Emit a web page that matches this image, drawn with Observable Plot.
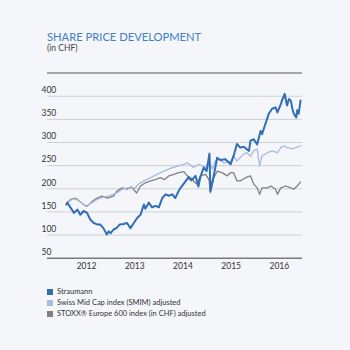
<!DOCTYPE html>
<html><head><meta charset="utf-8">
<script src="https://cdn.jsdelivr.net/npm/d3@7"></script>
<script src="https://cdn.jsdelivr.net/npm/@observablehq/plot@0.6"></script>
<style>
html,body{margin:0;padding:0;background:#f4f6fa;}
#wrap{position:relative;width:350px;height:350px;background:#f4f6fa;font-family:Lato,"Open Sans",sans-serif;overflow:hidden;}
#title{position:absolute;left:47px;top:31px;font-size:11.2px;color:#3f80c6;white-space:nowrap;line-height:1;}
#sub{position:absolute;left:47px;top:44px;font-size:8.5px;color:#444;white-space:nowrap;line-height:1;}
#chart{position:absolute;left:0;top:0;}
#legend{position:absolute;left:47px;top:286px;font-size:7.5px;color:#333;line-height:11px;}
#legend div{white-space:nowrap;}
#legend span{display:inline-block;width:6px;height:6px;margin-right:4px;vertical-align:-0.5px;}
</style></head>
<body><div id="wrap">
<div id="title">SHARE PRICE DEVELOPMENT</div>
<div id="sub">(in CHF)</div>
<div id="chart"></div>
<div id="legend"></div>
</div>
<script>
const seriesNames = ["Straumann", "Swiss Mid Cap index (SMIM) adjusted", "STOXX® Europe 600 index (in CHF) adjusted"];
const seriesColors = ["#2f6eb6", "#a8bbe0", "#808080"];
const yTicks = [50, 100, 150, 200, 250, 300, 350, 400];
const xTicks = [2012.5, 2013.5, 2014.5, 2015.5, 2016.5];
const xTickLabels = ["2012", "2013", "2014", "2015", "2016"];

const straumann = [[2012.08,166],[2012.10,170],[2012.17,159],[2012.24,148],[2012.31,155],[2012.37,144],[2012.44,152],[2012.51,148],[2012.58,133],[2012.65,126],[2012.72,123],[2012.78,123],[2012.85,115],[2012.92,101],[2012.96,108],[2013.00,104],[2013.06,112],[2013.12,115],[2013.19,123],[2013.27,124],[2013.34,126],[2013.41,115],[2013.48,126],[2013.55,137],[2013.62,144],[2013.69,166],[2013.72,157],[2013.79,170],[2013.86,160],[2013.93,163],[2014.00,160],[2014.07,180],[2014.14,188],[2014.21,185],[2014.28,188],[2014.34,180],[2014.41,195],[2014.45,202],[2014.51,210],[2014.61,224],[2014.68,218],[2014.76,228],[2014.82,205],[2014.86,225],[2014.93,246],[2014.99,238],[2015.05,276],[2015.07,195],[2015.13,224],[2015.21,267],[2015.28,262],[2015.38,264],[2015.49,253],[2015.55,271],[2015.62,297],[2015.69,289],[2015.76,291],[2015.87,282],[2015.90,304],[2015.97,307],[2016.04,296],[2016.11,325],[2016.14,318],[2016.21,340],[2016.28,362],[2016.35,373],[2016.42,376],[2016.46,365],[2016.53,383],[2016.56,392],[2016.61,405],[2016.66,380],[2016.70,394],[2016.74,390],[2016.77,373],[2016.80,362],[2016.85,354],[2016.87,370],[2016.90,362],[2016.94,391]];

const smim = [[2012.10,170],[2012.20,177],[2012.27,178],[2012.37,172],[2012.48,162],[2012.58,168],[2012.72,177],[2012.85,182],[2012.96,184],[2013.13,191],[2013.24,199],[2013.34,202],[2013.51,202],[2013.58,210],[2013.69,217],[2013.83,224],[2013.96,231],[2014.10,238],[2014.24,244],[2014.38,249],[2014.52,253],[2014.59,256],[2014.72,246],[2014.83,253],[2014.97,246],[2015.04,260],[2015.11,242],[2015.17,260],[2015.24,264],[2015.35,256],[2015.49,260],[2015.55,271],[2015.62,260],[2015.76,275],[2015.83,278],[2015.90,270],[2015.97,282],[2016.04,286],[2016.09,249],[2016.14,271],[2016.25,278],[2016.35,282],[2016.46,278],[2016.53,289],[2016.60,293],[2016.66,289],[2016.77,286],[2016.84,289],[2016.94,293]];

const stoxx = [[2012.10,170],[2012.17,177],[2012.27,180],[2012.33,175],[2012.44,166],[2012.51,162],[2012.62,173],[2012.72,180],[2012.82,184],[2012.93,180],[2013.06,184],[2013.13,195],[2013.24,202],[2013.34,199],[2013.43,204],[2013.54,191],[2013.62,206],[2013.72,213],[2013.83,217],[2013.93,220],[2014.03,224],[2014.12,220],[2014.21,228],[2014.31,231],[2014.41,235],[2014.52,237],[2014.59,228],[2014.66,224],[2014.72,217],[2014.79,210],[2014.86,228],[2014.97,231],[2015.04,220],[2015.07,191],[2015.14,224],[2015.21,238],[2015.31,235],[2015.42,228],[2015.49,235],[2015.55,235],[2015.62,217],[2015.69,217],[2015.80,224],[2015.90,228],[2015.97,210],[2016.04,202],[2016.09,188],[2016.14,202],[2016.25,202],[2016.32,206],[2016.42,199],[2016.46,188],[2016.53,202],[2016.63,206],[2016.74,202],[2016.80,199],[2016.87,206],[2016.94,215]];

const font = "Lato, 'Open Sans', sans-serif";
const chart = Plot.plot({
  width: 350,
  height: 280,
  marginTop: 72.6,
  marginBottom: 22.3,
  marginLeft: 47,
  marginRight: 48,
  style: {background: "transparent", fontFamily: font, fontSize: "8.5px", color: "#333"},
  x: {type: "linear", domain: [2011.69, 2016.98]},
  y: {domain: [50, 450]},
  marks: [
    Plot.ruleY(yTicks.slice(1), {stroke: "#cdd0d6", strokeWidth: 1}),
    Plot.ruleY([450], {stroke: "#8c8c8c", strokeWidth: 1.5}),
    Plot.ruleY([50], {stroke: "#7a7a7a", strokeWidth: 1.5}),
    Plot.axisY(yTicks, {tickSize: 0, textAnchor: "start", dx: 3, dy: -6, fill: "#333"}),
    Plot.axisX(xTicks, {tickSize: 0, tickPadding: 5, tickFormat: (d, i) => xTickLabels[i], fill: "#333"}),
    Plot.line(stoxx, {x: d => d[0], y: d => d[1], stroke: seriesColors[2], strokeWidth: 1.3}),
    Plot.line(smim, {x: d => d[0], y: d => d[1], stroke: seriesColors[1], strokeWidth: 1.3}),
    Plot.line(straumann, {x: d => d[0], y: d => d[1], stroke: seriesColors[0], strokeWidth: 2})
  ]
});
document.getElementById("chart").appendChild(chart);

const leg = document.getElementById("legend");
seriesNames.forEach((n, i) => {
  const row = document.createElement("div");
  const sw = document.createElement("span");
  sw.style.background = seriesColors[i];
  row.appendChild(sw);
  row.appendChild(document.createTextNode(n));
  leg.appendChild(row);
});
</script>
</body></html>
